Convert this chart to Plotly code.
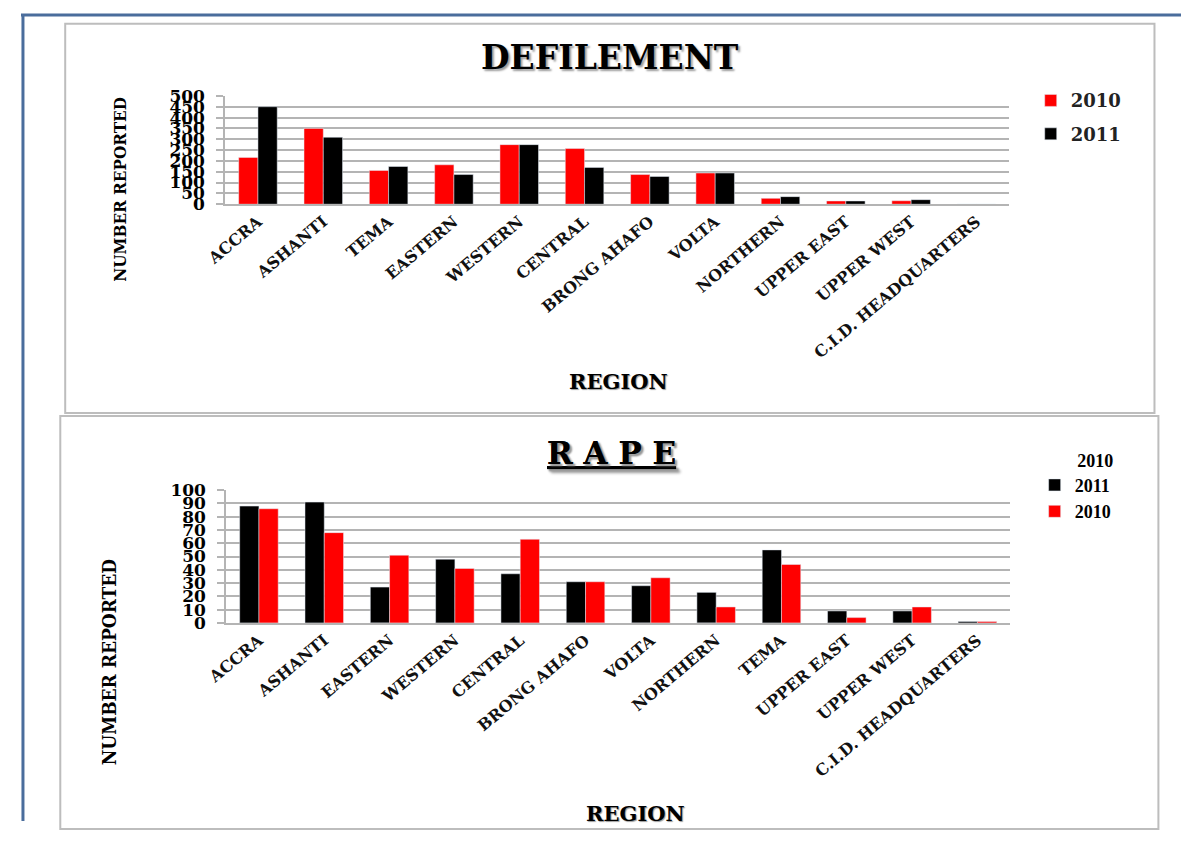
import plotly.graph_objects as go

# ---- data -------------------------------------------------------------
def_regions = ["ACCRA", "ASHANTI", "TEMA", "EASTERN", "WESTERN", "CENTRAL",
               "BRONG AHAFO", "VOLTA", "NORTHERN", "UPPER EAST", "UPPER WEST",
               "C.I.D. HEADQUARTERS"]
def_2010 = [216, 350, 156, 182, 275, 257, 137, 144, 27, 15, 16, 0]
def_2011 = [450, 309, 174, 137, 275, 170, 128, 144, 35, 15, 21, 0]

rape_regions = ["ACCRA", "ASHANTI", "EASTERN", "WESTERN", "CENTRAL",
                "BRONG AHAFO", "VOLTA", "NORTHERN", "TEMA", "UPPER EAST",
                "UPPER WEST", "C.I.D. HEADQUARTERS"]
rape_2011 = [88, 91, 27, 48, 37, 31, 28, 23, 55, 9, 9, 1]
rape_2010 = [86, 68, 51, 41, 63, 31, 34, 12, 44, 4, 12, 1]

def_ticks = list(range(0, 501, 50))
rape_ticks = list(range(0, 101, 10))

# ---- page geometry (pixels) -------------------------------------------
# the html body keeps its default 8px margin, so the figure is sized to
# fill the rest of the page and pixel positions are measured from there
PAGE_W, PAGE_H = 1197, 847
OFF = 8
W, H = PAGE_W - 2 * OFF, PAGE_H - 2 * OFF
RED, BLACK = "#ff0000", "#000000"
GRID = "#b4b4b4"
SERIF = "DejaVu Serif, Liberation Serif, serif"
COND = "DejaVu Serif Condensed, DejaVu Serif, Liberation Serif, serif"
TIMES = "Liberation Serif, Times New Roman, serif"


def px_x(x):
    return (x - OFF) / W


def px_y(y):
    return 1 - (y - OFF) / H


fig = go.Figure()

fig.add_trace(go.Bar(x=def_regions, y=def_2010, name="2010", marker_color=RED,
                     xaxis="x", yaxis="y", legend="legend", legendgroup="a"))
fig.add_trace(go.Bar(x=def_regions, y=def_2011, name="2011", marker_color=BLACK,
                     xaxis="x", yaxis="y", legend="legend", legendgroup="b"))
fig.add_trace(go.Bar(x=rape_regions, y=rape_2011, name="2011", marker_color=BLACK,
                     xaxis="x2", yaxis="y2", legend="legend2", legendgroup="c"))
fig.add_trace(go.Bar(x=rape_regions, y=rape_2010, name="2010", marker_color=RED,
                     xaxis="x2", yaxis="y2", legend="legend2", legendgroup="d"))

tick_font = dict(family=SERIF, size=17, color="black", weight="bold")
cat_font = dict(family=SERIF, size=16, color="#111", weight="bold")

common_x = dict(type="category", tickangle=-40, showgrid=False, showline=True,
                linecolor=GRID, linewidth=2, ticks="", tickfont=cat_font)
common_y = dict(showgrid=True, gridcolor=GRID, gridwidth=2, showline=True,
                linecolor=GRID, linewidth=2, ticks="outside", ticklen=7,
                tickcolor=GRID, tickwidth=2, tickfont=tick_font,
                ticklabelstandoff=8, zeroline=False)

fig.update_layout(
    width=W, height=H,
    margin=dict(l=0, r=0, t=0, b=0),
    paper_bgcolor="white", plot_bgcolor="white",
    barmode="group", bargap=0.41, bargroupgap=0,
    showlegend=True,
    xaxis=dict(common_x, domain=[px_x(216), px_x(1014)], anchor="y"),
    yaxis=dict(common_y, domain=[px_y(207), px_y(96)], anchor="x",
               range=[0, 500], tickvals=def_ticks),
    xaxis2=dict(common_x, domain=[px_x(217), px_x(1015)], anchor="y2"),
    yaxis2=dict(common_y, domain=[px_y(636), px_y(500)], anchor="x2",
                range=[0, 100], tickvals=rape_ticks),
    legend=dict(x=px_x(1036), y=px_y(82), xanchor="left", yanchor="top",
                bgcolor="rgba(0,0,0,0)", tracegroupgap=7,
                font=dict(family=SERIF, size=18, color="#222", weight="bold"),
                itemwidth=30),
    legend2=dict(x=px_x(1040), y=px_y(452), xanchor="left", yanchor="top",
                 bgcolor="rgba(0,0,0,0)", tracegroupgap=0,
                 title=dict(text="         2010",
                            font=dict(family=TIMES, size=18, color="black",
                                      weight="bold")),
                 font=dict(family=TIMES, size=18, color="black", weight="bold"),
                 itemwidth=30),
)

# ---- frames -----------------------------------------------------------
shapes = [
    # outer page frame
    dict(type="line", xref="paper", yref="paper", x0=0, x1=1.0,
         y0=px_y(13), y1=px_y(13), line=dict(color="#4a6d9c", width=3)),
    dict(type="line", xref="paper", yref="paper", x0=px_x(10), x1=px_x(10),
         y0=px_y(12), y1=0, line=dict(color="#4a6d9c", width=3)),
    # chart boxes
    dict(type="rect", xref="paper", yref="paper", x0=px_x(53), x1=px_x(1162),
         y0=px_y(421), y1=px_y(22), line=dict(color="#bdbdbd", width=2)),
    dict(type="rect", xref="paper", yref="paper", x0=px_x(48), x1=px_x(1166),
         y0=-0.01, y1=px_y(424), line=dict(color="#bdbdbd", width=2)),
]
fig.update_layout(shapes=shapes)

shadow = "2px 2px 2px #9a9a9a"
annotations = [
    dict(text="DEFILEMENT", x=px_x(608), y=px_y(57),
         font=dict(family=SERIF, size=33, color="black", weight="bold",
                   shadow=shadow)),
    dict(text="R A P E", x=px_x(609), y=px_y(462),
         font=dict(family=SERIF, size=31, color="black", weight="bold",
                   shadow=shadow, lineposition="under")),
    dict(text="REGION", x=px_x(616), y=px_y(389),
         font=dict(family=SERIF, size=21, color="black", weight="bold",
                   shadow="1px 1px 1px #999")),
    dict(text="REGION", x=px_x(634), y=px_y(831),
         font=dict(family=SERIF, size=21, color="black", weight="bold",
                   shadow="1px 1px 1px #999")),
    dict(text="NUMBER REPORTED", x=px_x(108), y=px_y(192), textangle=-90,
         font=dict(family=COND, size=17, color="black", weight="bold")),
    dict(text="NUMBER REPORTED", x=px_x(98), y=px_y(676), textangle=-90,
         font=dict(family=COND, size=19, color="black", weight="bold")),
]
for a in annotations:
    a.update(xref="paper", yref="paper", showarrow=False,
             xanchor="center", yanchor="middle")
fig.update_layout(annotations=annotations)

fig.write_html("out.html")
